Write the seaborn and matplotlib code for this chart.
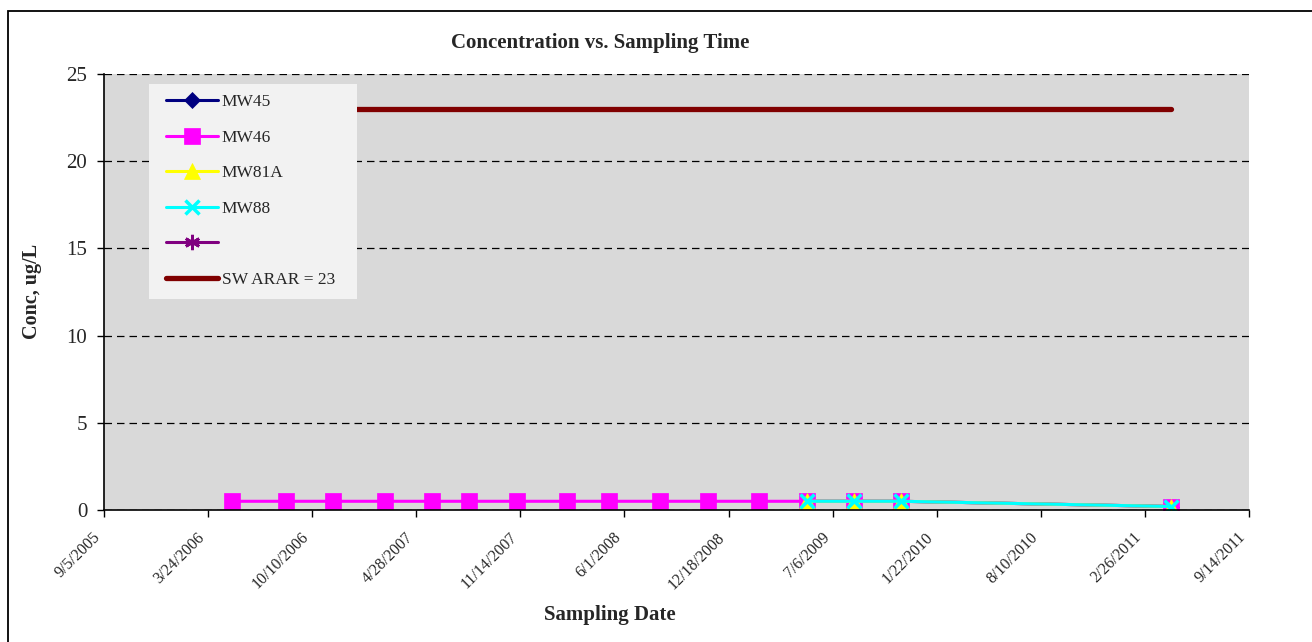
import matplotlib
matplotlib.use("Agg")
import matplotlib.pyplot as plt
import matplotlib.patches as mpatches
import numpy as np
import pandas as pd
import seaborn as sns

# ---- data -------------------------------------------------------------
tick_labels = ["9/5/2005", "3/24/2006", "10/10/2006", "4/28/2007", "11/14/2007",
               "6/1/2008", "12/18/2008", "7/6/2009", "1/22/2010", "8/10/2010",
               "2/26/2011", "9/14/2011"]
y_ticks = [0, 5, 10, 15, 20, 25]

mw46_dates = ["2006-05-08", "2006-08-21", "2006-11-19", "2007-02-27", "2007-05-28",
              "2007-08-07", "2007-11-07", "2008-02-11", "2008-05-03", "2008-08-09",
              "2008-11-09", "2009-02-15", "2009-05-17", "2009-08-17", "2009-11-15",
              "2011-04-18"]
mw46_conc = [0.5, 0.5, 0.5, 0.5, 0.5, 0.5, 0.5, 0.5, 0.5, 0.5, 0.5, 0.5,
             0.5, 0.5, 0.5, 0.2]

recent_dates = ["2009-05-17", "2009-08-17", "2009-11-15", "2011-04-18"]
mw45_conc = [0.5, 0.5, 0.5, 0.2]
mw81a_conc = [0.5, 0.5, 0.5, 0.2]
mw88_conc = [0.5, 0.5, 0.5, 0.2]
unnamed_conc = []

arar_dates = ["2006-05-08", "2011-04-18"]
arar_conc = [23, 23]

# ---- style ------------------------------------------------------------
sns.set_theme(style="white")
plt.rcParams["font.family"] = ["Liberation Serif", "DejaVu Serif"]

W, H = 1312, 642
fig = plt.figure(figsize=(W / 100, H / 100), dpi=100)
ax = fig.add_axes([104 / W, 1 - 510 / H, 1145 / W, 436 / H])
ax.set_facecolor("#D9D9D9")

to_dt = lambda s: pd.to_datetime(s)

series = [
    ("MW45", recent_dates, mw45_conc, "#000080", "D", 8),
    ("MW46", mw46_dates, mw46_conc, "#FF00FF", "s", 11),
    ("MW81A", recent_dates, mw81a_conc, "#FFFF00", "^", 11),
    ("MW88", recent_dates, mw88_conc, "#00FFFF", "x", 10),
]
handles = []
for name, d, v, col, mk, ms in series:
    sns.lineplot(x=to_dt(d), y=v, ax=ax, color=col, marker=mk, markersize=ms,
                 markerfacecolor=col, markeredgecolor=col,
                 markeredgewidth=2.5 if mk == "x" else 0.5,
                 linewidth=2.2, label=name, legend=False)
    handles.append(ax.lines[-1])

blank, = ax.plot(pd.to_datetime(pd.Series(unnamed_conc, dtype="float64")),
                 unnamed_conc, color="#800080", marker=(6, 2, 0), markersize=11,
                 markeredgewidth=2, linewidth=2.2, label=" ")
handles.append(blank)

sns.lineplot(x=to_dt(arar_dates), y=arar_conc, ax=ax, color="#800000",
             linewidth=3.8, label="SW ARAR = 23", legend=False)
handles.append(ax.lines[-1])

# ---- axes -------------------------------------------------------------
tick_dates = pd.to_datetime(tick_labels, format="%m/%d/%Y")
ax.set_xlim(tick_dates[0], tick_dates[-1])
ax.set_xticks(tick_dates)
ax.set_xticklabels(tick_labels, rotation=45, ha="right", fontsize=11.5)
ax.set_ylim(0, 25)
ax.set_yticks(y_ticks)
ax.set_yticklabels([str(t) for t in y_ticks], fontsize=15)
ax.yaxis.grid(True, color="black", linestyle=(0, (6, 4)), linewidth=0.9)
ax.set_axisbelow(True)
for s in ["top", "right"]:
    ax.spines[s].set_visible(False)
for s in ["left", "bottom"]:
    ax.spines[s].set_color("black")
    ax.spines[s].set_linewidth(1.2)
ax.tick_params(axis="both", which="major", direction="out", length=5,
               width=1, color="black", bottom=True, left=True)
ax.tick_params(axis="y", pad=7)
ax.tick_params(axis="x", pad=9)
ax.set_xlabel("")
ax.set_ylabel("")

fig.text(600 / W, 1 - 43 / H, "Concentration vs. Sampling Time",
         ha="center", va="center", fontsize=15, fontweight="bold")
fig.text(610 / W, 1 - 615 / H, "Sampling Date",
         ha="center", va="center", fontsize=15, fontweight="bold")
fig.text(32 / W, 1 - 291 / H, "Conc, ug/L", rotation=90,
         ha="center", va="center", fontsize=14.5, fontweight="bold")

# legend panel
ax.add_patch(mpatches.Rectangle(((149 - 104) / 1145, (510 - 299) / 436),
                                (357 - 149) / 1145, (299 - 84) / 436,
                                transform=ax.transAxes, facecolor="#F2F2F2",
                                edgecolor="none", zorder=4.5))
leg = ax.legend(handles=handles, labels=[h.get_label() for h in handles],
                loc="upper left", bbox_to_anchor=((166 - 104) / 1145, (510 - 94) / 436),
                borderaxespad=0, borderpad=0, fontsize=12.5, handlelength=3.0,
                handletextpad=0.2, labelspacing=1.12, frameon=False)
leg.set_zorder(5)

# chart border
fig.patches.append(mpatches.Rectangle((8 / W, -0.1), 1.2, 1.1 - 11 / H,
                                      transform=fig.transFigure, fill=False,
                                      edgecolor="black", linewidth=1.3))

fig.savefig("out.png", dpi=100, facecolor="white")
